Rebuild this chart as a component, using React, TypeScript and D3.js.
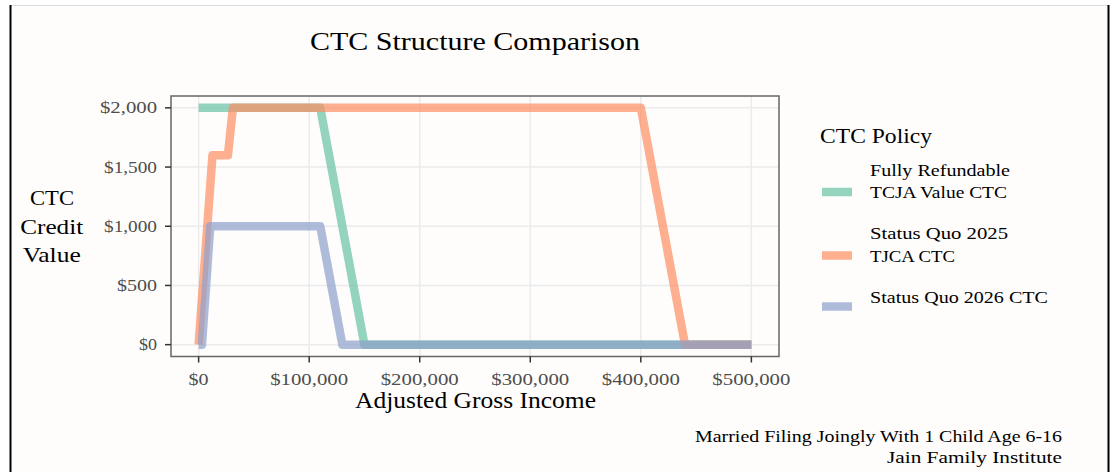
import React from "react";
import * as d3 from "d3";

const seriesNames = ["Fully Refundable TCJA Value CTC", "Status Quo 2025 TJCA CTC", "Status Quo 2026 CTC"];
const legendLines = [["Fully Refundable", "TCJA Value CTC"], ["Status Quo 2025", "TJCA CTC"], ["Status Quo 2026 CTC"]];
const colors = ["#66C2A5", "#FC8D62", "#8DA0CB"];

const refundableIncome = [0, 110000, 150000, 500000];
const refundableValue = [2000, 2000, 0, 0];
const quo2025Income = [0, 12500, 26500, 31000, 400000, 440000, 500000];
const quo2025Value = [0, 1600, 1600, 2000, 2000, 0, 0];
const quo2026Income = [0, 3000, 10500, 110000, 130000, 500000];
const quo2026Value = [0, 0, 1000, 1000, 0, 0];

const xTicks = [0, 100000, 200000, 300000, 400000, 500000];
const yTicks = [0, 500, 1000, 1500, 2000];

const FONT = "'Liberation Serif', 'DejaVu Serif', serif";

function T(props: any) {
  const { x, y, size, len, anchor, children, fill } = props;
  return (
    <text x={x} y={y} fontSize={size} textAnchor={anchor || "start"} fill={fill || "#000"}
      fontFamily={FONT} textLength={len} lengthAdjust="spacingAndGlyphs">{children}</text>
  );
}

export default function App() {
  const W = 1112, H = 472;
  const panel = { l: 171, r: 779, t: 96, b: 356.5 };
  const x = d3.scaleLinear().domain([-25000, 525000]).range([panel.l, panel.r]);
  const y = d3.scaleLinear().domain([-100, 2100]).range([panel.b, panel.t]);
  const fmt = (v: number) => "$" + d3.format(",")(v);
  const line = d3.line<[number, number]>().x(d => x(d[0])).y(d => y(d[1]));
  const series: [number, number][][] = [
    refundableIncome.map((v, i) => [v, refundableValue[i]] as [number, number]),
    quo2025Income.map((v, i) => [v, quo2025Value[i]] as [number, number]),
    quo2026Income.map((v, i) => [v, quo2026Value[i]] as [number, number]),
  ];
  const xLabelLen: Record<number, number> = { 0: 20, 100000: 78, 200000: 78, 300000: 78, 400000: 78, 500000: 78 };
  const yLabelLen: Record<number, number> = { 0: 18, 500: 40, 1000: 53, 1500: 53, 2000: 57 };
  const legendY = [192, 255.5, 306.5];
  const legendLen = [[140, 137], [138, 85], [178]];
  const legendBase = [[175.7, 198.3], [239, 261.7], [302.7]];
  return (
    <svg width={W} height={H} style={{ position: "absolute", left: 0, top: 0 }}>
      <rect x={0} y={0} width={W} height={H} fill="#fff" />
      <rect x={10} y={5} width={1099} height={H} fill="#FEFDFB" />
      <line x1={10} x2={1109} y1={5.5} y2={5.5} stroke="#DCDCDC" strokeWidth={1} />
      <line x1={10.5} x2={10.5} y1={5} y2={H} stroke="#000" strokeWidth={2} />
      <line x1={1108.5} x2={1108.5} y1={5} y2={H} stroke="#000" strokeWidth={2} />

      <T x={475} y={50} size={26} len={330} anchor="middle">CTC Structure Comparison</T>

      {/* panel */}
      <rect x={panel.l} y={panel.t} width={panel.r - panel.l} height={panel.b - panel.t} fill="#FEFDFC" />
      {xTicks.map(t => (
        <line key={"gx" + t} x1={x(t)} x2={x(t)} y1={panel.t} y2={panel.b} stroke="#EBEBEB" strokeWidth={1.5} />
      ))}
      {yTicks.map(t => (
        <line key={"gy" + t} x1={panel.l} x2={panel.r} y1={y(t)} y2={y(t)} stroke="#EBEBEB" strokeWidth={1.5} />
      ))}
      {series.map((s, i) => (
        <path key={seriesNames[i]} d={line(s) || ""} fill="none" stroke={colors[i]} strokeOpacity={0.7}
          strokeWidth={8.5} strokeLinejoin="round" strokeLinecap="butt" />
      ))}
      <rect x={panel.l} y={panel.t} width={panel.r - panel.l} height={panel.b - panel.t} fill="none" stroke="#666" strokeWidth={1.5} />

      {/* axes */}
      {xTicks.map(t => (
        <g key={"tx" + t}>
          <line x1={x(t)} x2={x(t)} y1={panel.b} y2={panel.b + 6} stroke="#333" strokeWidth={1.5} />
          <T x={x(t)} y={385} size={17} len={xLabelLen[t]} anchor="middle" fill="#4D4D4D">{fmt(t)}</T>
        </g>
      ))}
      {yTicks.map(t => (
        <g key={"ty" + t}>
          <line x1={panel.l - 6} x2={panel.l} y1={y(t)} y2={y(t)} stroke="#333" strokeWidth={1.5} />
          <T x={157} y={y(t) + 5.5} size={17} len={yLabelLen[t]} anchor="end" fill="#4D4D4D">{fmt(t)}</T>
        </g>
      ))}
      <T x={475.5} y={408} size={23} len={241} anchor="middle">Adjusted Gross Income</T>
      <T x={52} y={205} size={22} len={44} anchor="middle">CTC</T>
      <T x={51.7} y={233.5} size={22} len={63} anchor="middle">Credit</T>
      <T x={51.7} y={262} size={22} len={58} anchor="middle">Value</T>

      {/* legend */}
      <T x={820} y={143.3} size={22} len={112}>CTC Policy</T>
      {legendLines.map((ls, i) => (
        <g key={"lg" + i}>
          <rect x={822} y={legendY[i] - 4.25} width={30} height={8.5} fill={colors[i]} fillOpacity={0.7} />
          {ls.map((txt, j) => (
            <T key={j} x={870} y={legendBase[i][j]} size={17} len={legendLen[i][j]}>{txt}</T>
          ))}
        </g>
      ))}

      {/* caption */}
      <T x={1062} y={441.7} size={17} len={367} anchor="end">Married Filing Joingly With 1 Child Age 6-16</T>
      <T x={1062} y={463.3} size={17} len={175} anchor="end">Jain Family Institute</T>
    </svg>
  );
}
